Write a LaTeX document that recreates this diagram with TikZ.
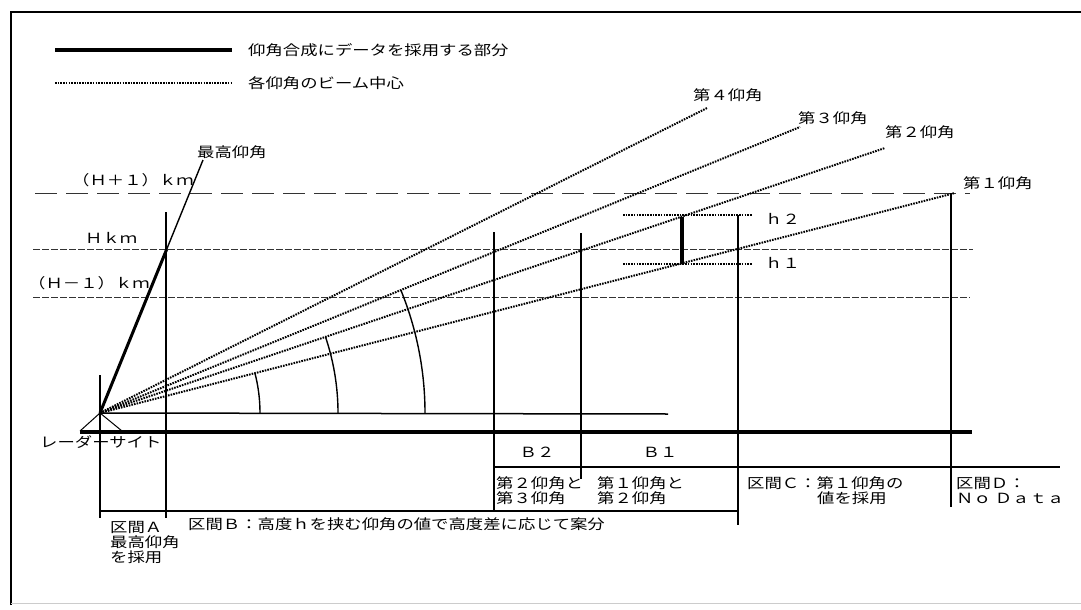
\documentclass[tikz,border=0pt]{standalone}
\usepackage{fontspec}
\newfontfamily\jp[FakeStretch=1.24]{Noto Sans CJK JP}
\begin{document}
\begin{tikzpicture}[x=1pt,y=-1pt,
  lbl/.style={font=\jp\fontsize{14}{15}\selectfont, inner sep=0pt, anchor=west, align=left},
  clbl/.style={lbl, anchor=center},
  beam/.style={line width=2pt, dash pattern=on 1.6pt off 1.1pt},
  hline/.style={line width=0.9pt, dash pattern=on 7pt off 2pt, black!80},
  vline/.style={line width=1.1pt},
  heavy/.style={line width=3.5pt},
]
\useasboundingbox (0,0) rectangle (1081,610);
% frame
\draw[line width=1.8pt] (11,605) -- (11,12) -- (1081,12);
\draw[black!20, line width=0.8pt] (11,603) -- (1081,603);

% legend
\coordinate (lg1a) at (55,50); \coordinate (lg1b) at (232,50);
\coordinate (lg2a) at (55,83); \coordinate (lg2b) at (232,83);
\draw[heavy] (lg1a) -- (lg1b);
\draw[beam, line width=1.2pt] (lg2a) -- (lg2b);
\node[lbl] (lgt1) at (248,50) {仰角合成にデータを採用する部分};
\node[lbl] (lgt2) at (248,83) {各仰角のビーム中心};

% height lines
\coordinate (Hp1a) at (35,193); \coordinate (Hp1b) at (970,193);
\coordinate (Ha) at (33,249);   \coordinate (Hb) at (973,249);
\coordinate (Hm1a) at (33,297); \coordinate (Hm1b) at (970,297);
\draw[hline, dash pattern=on 22pt off 9pt] (Hp1a) -- (Hp1b);
\draw[hline] (Ha) -- (Hb);
\draw[hline] (Hm1a) -- (Hm1b);
\node[lbl] (tHp1) at (72,180) {（Ｈ＋１）ｋｍ};
\node[lbl] (tH) at (85,238) {Ｈｋｍ};
\node[lbl] (tHm1) at (28,283) {（Ｈ－１）ｋｍ};

% radar apex and beams
\coordinate (O) at (100,413);
\coordinate (b1) at (955,193);
\coordinate (b2) at (885,148);
\coordinate (b3) at (800,127);
\coordinate (b4) at (707,108);
\draw[beam] (O) -- (b1);
\draw[beam] (O) -- (b2);
\draw[beam] (O) -- (b3);
\draw[beam] (O) -- (b4);
\node[lbl] (t1) at (963,183) {第１仰角};
\node[lbl] (t2) at (885,132) {第２仰角};
\node[lbl] (t3) at (798,118) {第３仰角};
\node[lbl] (t4) at (693,95) {第４仰角};

% highest elevation
\coordinate (hH) at (166.8,249);
\coordinate (hTop) at (203,160);
\draw[line width=3pt] (O) -- (hH);
\draw[line width=1.4pt] (hH) -- (hTop);
\node[lbl] (tHi) at (197,152) {最高仰角};

% arcs
\draw[line width=1.4pt] (260,413) arc[start angle=0, end angle=-14.43, radius=160];
\draw[line width=1.4pt] (338,413) arc[start angle=0, end angle=-18.65, radius=238];
\draw[line width=1.4pt] (425,413) arc[start angle=0, end angle=-22.22, radius=325];

% ground, site
\coordinate (g1) at (80,432); \coordinate (g2) at (972,432);
\coordinate (th) at (668,414);
\draw[line width=3.2pt] (g1) -- (g2);
\draw[line width=1.5pt] (O) -- (th);
\coordinate (trl) at (80,431); \coordinate (trr) at (122,431);
\draw[line width=1pt] (trl) -- (O) -- (trr);
\node[lbl] (site) at (40,442) {レーダーサイト};

% h1 / h2
\coordinate (h2a) at (623,215); \coordinate (h2b) at (752,215);
\coordinate (h1a) at (623,264); \coordinate (h1b) at (752,264);
\draw[beam] (h2a) -- (h2b);
\draw[beam] (h1a) -- (h1b);
\coordinate (hA) at (682,216.5); \coordinate (hB) at (682,263.2);
\draw[line width=3.5pt] (hA) -- (hB);
\node[lbl] (th2) at (765,219) {ｈ２};
\node[lbl] (th1) at (765,263) {ｈ１};

% vertical section lines
\coordinate (v1a) at (100,375); \coordinate (v1b) at (100,518);
\coordinate (v2a) at (166,212); \coordinate (v2b) at (166,518);
\coordinate (v3a) at (494,232); \coordinate (v3b) at (494,511);
\coordinate (v4a) at (581,233); \coordinate (v4b) at (581,479);
\coordinate (v5a) at (738,215); \coordinate (v5b) at (738,525);
\coordinate (v6a) at (951,193); \coordinate (v6b) at (951,507);
\foreach \a/\b in {v1a/v1b,v2a/v2b,v3a/v3b,v4a/v4b,v5a/v5b,v6a/v6b}
  \draw[vline] (\a) -- (\b);
\coordinate (da) at (494,467); \coordinate (db) at (1060,467);
\draw[vline] (da) -- (db);
\coordinate (ea) at (100,511); \coordinate (eb) at (738,511);
\draw[vline] (ea) -- (eb);

% section labels
\node[clbl] (B2) at (537,452) {Ｂ２};
\node[clbl] (B1) at (660,452) {Ｂ１};
\node[lbl] (s23) at (496,490.5) {第２仰角と\\第３仰角};
\node[lbl] (s12) at (597,490.5) {第１仰角と\\第２仰角};
\node[lbl] (sC) at (747,490.5) {区間Ｃ：第１仰角の\\\hspace*{70pt}値を採用};
\node[lbl] (sD) at (956,490.5) {区間Ｄ：\\Ｎｏ Ｄａｔａ};
\node[lbl] (sA) at (110,543) {区間Ａ\\最高仰角\\を採用};
\node[lbl] (sB) at (188,524) {区間Ｂ：高度ｈを挟む仰角の値で高度差に応じて案分};
\end{tikzpicture}
\end{document}
